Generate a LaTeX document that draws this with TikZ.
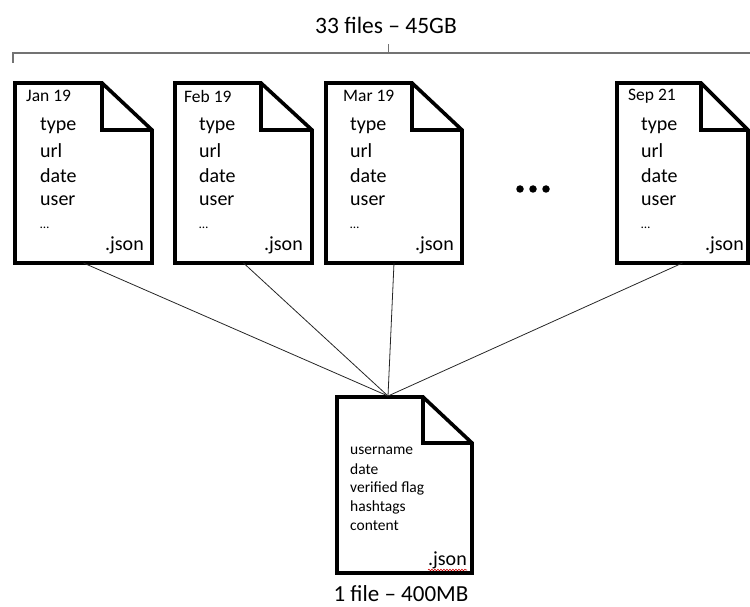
\documentclass[tikz,border=0pt]{standalone}
\usepackage{fontspec}
\setmainfont{Carlito}
\usetikzlibrary{decorations.pathmorphing}
\tikzset{
  docframe/.style={draw=none, inner sep=0pt, outer sep=0pt},
  docline/.style={line width=3.6pt, line join=miter, black},
  conn/.style={line width=0.8pt, black!85},
  bracel/.style={line width=1.2pt, black!55},
  field/.style={anchor=west, inner sep=0pt, font=\fontsize{20}{23}\selectfont},
  smallfield/.style={anchor=west, inner sep=0pt, font=\fontsize{15.5}{18}\selectfont},
  datelbl/.style={anchor=west, inner sep=0pt, font=\fontsize{17.5}{20}\selectfont},
  extlbl/.style={anchor=east, inner sep=0pt, font=\fontsize{20}{23}\selectfont},
  titlelbl/.style={inner sep=0pt, font=\fontsize{23.5}{26}\selectfont},
  dotmark/.style={circle, fill=black, inner sep=0pt, minimum size=7.5pt},
}
% draw a document outline around node #1 with fold width #2 and fold height #3
\newcommand{\docoutline}[3]{%
  \draw[docline] (#1.north west) -- ([xshift=-#2]#1.north east)
    -- ([yshift=-#3]#1.north east) -- (#1.south east) -- (#1.south west) -- cycle;
  \draw[docline] ([xshift=-#2]#1.north east) -- ([xshift=-#2,yshift=-#3]#1.north east)
    -- ([yshift=-#3]#1.north east);
}
\begin{document}
\begin{tikzpicture}[x=1pt,y=-1pt]
\useasboundingbox (0,0) rectangle (750,607);

% title and brace
\node[titlelbl] (title) at (386,25) {33 files – 45GB};
\coordinate (bl) at (13,63);
\coordinate (blc) at (13,53);
\coordinate (br) at (752,53);
\coordinate (bm) at (388,53);
\coordinate (bt) at (388,44);
\draw[bracel] (bl) -- (blc) -- (br);
\draw[bracel, line width=1pt] (bm) -- (bt);

% top documents
\node[docframe, minimum width=137pt, minimum height=180pt] (jan) at (83.5,173) {};
\node[docframe, minimum width=137pt, minimum height=180pt] (feb) at (243.5,173) {};
\node[docframe, minimum width=136pt, minimum height=180pt] (mar) at (394,173) {};
\node[docframe, minimum width=131pt, minimum height=180pt] (sep) at (682.5,173) {};
\docoutline{jan}{50pt}{47pt}
\docoutline{feb}{51pt}{47pt}
\docoutline{mar}{50pt}{47pt}
\docoutline{sep}{47pt}{47pt}

% Jan
\node[datelbl] (janl) at (26,96) {Jan 19};
\node[field] (jan1) at (40,126) {type};
\node[field] (jan2) at (40,151) {url};
\node[field] (jan3) at (40,176) {date};
\node[field] (jan4) at (40,201) {user};
\node[field, font=\fontsize{13}{15}\selectfont] (jan5) at (40,228) {…};
\node[extlbl] (janx) at (144,245) {.json};
% Feb
\node[datelbl] (febl) at (184,96) {Feb 19};
\node[field] (feb1) at (199,126) {type};
\node[field] (feb2) at (199,151) {url};
\node[field] (feb3) at (199,176) {date};
\node[field] (feb4) at (199,201) {user};
\node[field, font=\fontsize{13}{15}\selectfont] (feb5) at (199,228) {…};
\node[extlbl] (febx) at (303,245) {.json};
% Mar
\node[datelbl] (marl) at (343,96) {Mar 19};
\node[field] (mar1) at (350,126) {type};
\node[field] (mar2) at (350,151) {url};
\node[field] (mar3) at (350,176) {date};
\node[field] (mar4) at (350,201) {user};
\node[field, font=\fontsize{13}{15}\selectfont] (mar5) at (350,228) {…};
\node[extlbl] (marx) at (454,245) {.json};
% Sep
\node[datelbl] (sepl) at (628,96) {Sep 21};
\node[field] (sep1) at (641,126) {type};
\node[field] (sep2) at (641,151) {url};
\node[field] (sep3) at (641,176) {date};
\node[field] (sep4) at (641,201) {user};
\node[field, font=\fontsize{13}{15}\selectfont] (sep5) at (641,228) {…};
\node[extlbl] (sepx) at (744,245) {.json};

% ellipsis dots
\node[dotmark] (d1) at (520,189) {};
\node[dotmark] (d2) at (533,189) {};
\node[dotmark] (d3) at (546,189) {};

% bottom document
\node[docframe, minimum width=135pt, minimum height=176pt] (out) at (404.5,485) {};
\docoutline{out}{49pt}{46pt}
\coordinate (merge) at (388,396);
\node[smallfield] (o1) at (350,451) {username};
\node[smallfield] (o2) at (350,469) {date};
\node[smallfield] (o3) at (350,488) {verified flag};
\node[smallfield] (o4) at (350,507) {hashtags};
\node[smallfield] (o5) at (350,526) {content};
\node[extlbl] (outx) at (467,560) {.json};
\coordinate (sq1) at (428,570);
\coordinate (sq2) at (467,570);
\draw[red!80!black, line width=0.6pt, decorate,
  decoration={snake, amplitude=0.8pt, segment length=3pt}] (sq1) -- (sq2);
\node[titlelbl, font=\fontsize{23}{26}\selectfont] (outl) at (401,594) {1 file – 400MB};

% connectors
\draw[conn] (jan.south) -- (merge);
\draw[conn] (feb.south) -- (merge);
\draw[conn] (mar.south) -- (merge);
\draw[conn] (sep.south) -- (merge);
\end{tikzpicture}
\end{document}
